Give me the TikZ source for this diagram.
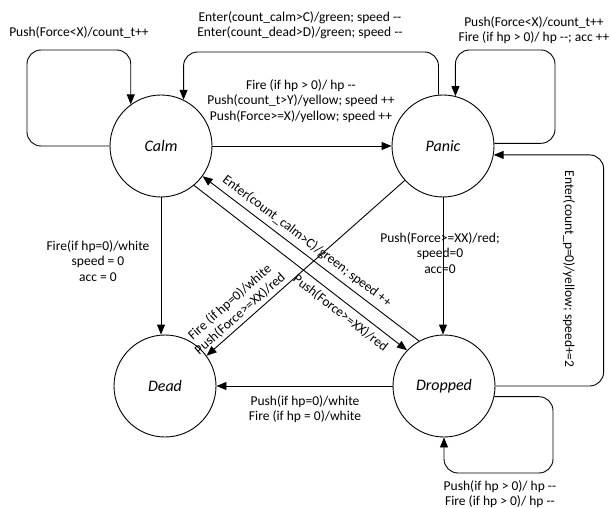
\documentclass[tikz,border=0pt]{standalone}
\usepackage{fontspec}
\setmainfont{Carlito}
\usetikzlibrary{arrows.meta,calc}
\begin{document}
\begin{tikzpicture}[x=1pt,y=-1pt,
  state/.style={circle, draw, line width=0.9pt, minimum size=102pt, inner sep=0pt,
    font=\fontsize{16}{19}\selectfont\itshape},
  lbl/.style={font=\fontsize{13.5}{15.5}\selectfont, align=center, inner sep=1pt},
  tr/.style={draw, line width=0.9pt, -{Triangle[length=10pt,width=8pt]}},
  trback/.style={draw, line width=0.9pt, {Triangle[length=10pt,width=8pt]}-},
  loopr/.style={rounded corners=14pt}]
\useasboundingbox (0,0) rectangle (611,508);

% states
\node[state] (calm)    at (161,146) {Calm};
\node[state] (panic)   at (443,146) {Panic};
\node[state] (dead)    at (165,386) {Dead};
\node[state] (dropped) at (444,386) {Dropped};

% free labels
\node[lbl] (lcalmloop) at (79,33) {Push(Force<X)/count\_t++};
\node[lbl] (lcalmtop) at (300,25) {Enter(count\_calm>C)/green; speed -{}-\\Enter(count\_dead>D)/green; speed -{}-};
\node[lbl] (lpanicloop) at (534,30) {Push(Force<X)/count\_t++\\Fire (if hp > 0)/ hp -{}-; acc ++};
\node[lbl] (lcp) at (301,101) {Fire (if hp > 0)/ hp -{}-\\Push(count\_t>Y)/yellow; speed ++\\Push(Force>=X)/yellow; speed ++};
\node[lbl] (lcd) at (98,261) {Fire(if hp=0)/white\\speed = 0\\acc = 0};
\node[lbl] (lpdr) at (440,253) {Push(Force>=XX)/red;\\speed=0\\acc=0};
\node[lbl] (ldrd) at (305,409) {Push(if hp=0)/white\\Fire (if hp = 0)/white};
\node[lbl] (ldrloop) at (500,494) {Push(if hp > 0)/ hp -{}-\\Fire (if hp > 0)/ hp -{}-};
\node[lbl, rotate=-90] (ldrp) at (569,269) {Enter(count\_p=0)/yellow; speed+=2};

% self loops and the long way round
\draw[tr, loopr] (calm.west) -| (27,50) -| (calm.126);
\draw[tr, loopr] (panic.95) |- (300,52) -| (calm.64);
\draw[tr, loopr] (panic.3) -| (555,50) -| (panic.76);
\draw[tr, loopr] (dropped.east) -| ([xshift=110pt]panic.-10) -- (panic.-10);
\draw[tr, loopr] (dropped.-12) -| (553,473) -| (dropped.south);

% straight transitions
\draw[tr] (calm.east) -- (panic.west);
\draw[tr] (calm.south) -- (calm.south |- dead.north);
\draw[tr] (panic.south) -- (panic.south |- dropped.north);
\draw[tr] (dropped.west) -- (dead.east);
\draw[tr] (panic.222) -- (dead.36)
  node[lbl, pos=0.8, sloped, above=2pt] {Fire (if hp=0)/white\\Push(Force>=XX)/red};
\draw[trback] (calm.-36) -- (dropped.119)
  node[lbl, pos=0.45, sloped, above=4pt] {Enter(count\_calm>C)/green; speed ++};
\draw[tr] (calm.-50) -- (dropped.136)
  node[lbl, pos=0.72, sloped, below=4pt] {Push(Force>=XX)/red};
\end{tikzpicture}
\end{document}
